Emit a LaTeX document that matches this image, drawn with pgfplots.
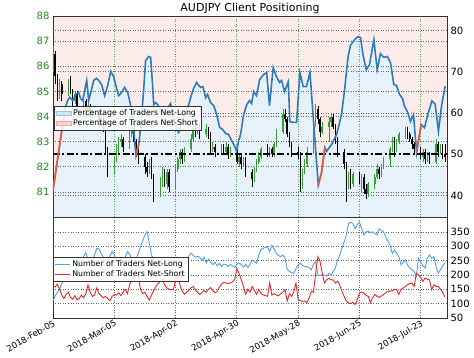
\documentclass[border=0pt]{standalone}
\usepackage{pgfplots}
\usepackage{pgfplotstable}
\pgfplotsset{compat=1.18}
\usepackage{fontspec}
\setmainfont{DejaVu Sans}
\definecolor{pinkbg}{RGB}{252,236,233}
\definecolor{bluefill}{RGB}{231,241,250}
\definecolor{lineblue}{RGB}{44,123,186}
\definecolor{linered}{RGB}{236,88,58}
\definecolor{cgreen}{RGB}{52,160,52}
\definecolor{tickgreen}{RGB}{34,139,34}
\definecolor{nlblue}{RGB}{80,160,230}
\definecolor{nsred}{RGB}{226,40,40}
\definecolor{framegray}{RGB}{50,50,50}
\definecolor{gridgray}{RGB}{100,100,100}
\definecolor{gridgreen}{RGB}{80,160,80}
\definecolor{legblue}{RGB}{205,225,245}
\definecolor{legblueedge}{RGB}{160,195,235}
\definecolor{legpink}{RGB}{250,205,200}
\definecolor{legpinkedge}{RGB}{240,165,160}
\tikzset{dotgrid/.style={dash pattern=on 0.9pt off 1.6pt, line width=0.75pt}}

\pgfplotstableread{
d o h l c
0 85.9 86.8 85.8 86.6
3 84.8 85.5 84.7 85.3
7 84.9 85.5 84.8 85.4
10 84.6 85.0 84.5 84.9
14 84.4 84.8 84.2 84.6
16 84.2 84.6 84.0 84.4
18 84.0 84.3 83.9 84.2
22 83.8 84.1 83.6 84.0
28 81.9 82.4 81.7 82.3
29 82.3 82.9 82.2 82.7
30 82.7 83.2 82.5 83.0
31 83.0 83.3 82.8 83.1
35 82.8 83.5 82.7 83.3
36 83.3 83.8 83.2 83.6
44 81.8 82.3 81.7 82.1
49 80.9 81.6 80.8 81.4
50 81.4 82.0 81.2 81.8
52 81.3 81.9 81.1 81.8
56 81.2 82.1 81.1 81.9
57 81.9 82.4 81.8 82.3
58 82.3 82.7 82.1 82.6
60 82.3 82.8 82.2 82.7
63 82.7 83.3 82.6 83.1
64 83.1 83.8 83.0 83.6
66 83.4 83.8 83.3 83.6
70 83.3 83.7 83.2 83.5
73 82.7 83.0 82.6 82.8
77 82.6 82.9 82.5 82.8
79 82.6 83.0 82.5 82.8
81 82.5 82.8 82.4 82.6
85 82.2 82.5 82.0 82.4
87 82.1 82.4 82.0 82.3
92 81.5 82.0 81.4 81.9
93 81.9 82.3 81.8 82.2
94 82.2 82.6 82.1 82.4
95 82.4 82.8 82.3 82.7
99 82.5 82.8 82.4 82.7
101 82.5 83.0 82.4 82.9
102 82.9 83.5 82.8 83.4
105 83.4 84.3 83.3 84.1
114 81.3 81.9 81.1 81.8
115 81.8 82.3 81.7 82.1
116 82.1 82.8 82.0 82.6
119 82.6 83.9 82.5 83.7
120 83.7 84.5 83.6 84.3
123 83.4 83.8 83.3 83.6
126 83.6 84.0 83.0 83.8
127 83.8 84.1 83.6 84.0
135 81.2 81.8 81.1 81.6
137 81.3 81.8 81.2 81.7
141 81.4 81.7 81.0 81.6
144 80.9 81.4 80.8 81.3
147 81.3 81.7 81.1 81.6
148 81.6 82.1 81.5 81.9
150 81.7 82.1 81.6 82.0
151 82.0 82.4 81.9 82.3
154 82.3 82.8 82.0 82.7
155 82.7 83.2 82.6 83.1
157 82.7 83.1 82.6 83.0
158 83.0 83.4 82.9 83.3
161 83.3 83.6 83.1 83.5
169 82.4 82.7 82.2 82.6
171 82.3 82.6 82.2 82.5
175 82.2 83.1 82.1 82.9
177 82.6 82.9 82.5 82.8
}\upc

\pgfplotstableread{
d o h l c
1 86.5 86.6 85.3 85.6
2 85.6 85.7 84.6 84.8
4 85.3 85.4 84.6 84.9
8 85.4 85.6 84.9 85.0
9 85.0 85.1 84.4 84.6
11 84.9 85.0 84.2 84.4
15 84.6 84.7 84.0 84.2
17 84.4 84.5 83.8 84.0
21 84.2 84.3 83.6 83.8
23 84.0 84.1 83.4 83.6
24 83.6 83.7 82.5 82.6
25 82.6 82.8 81.6 81.9
32 83.1 83.2 82.6 82.8
37 83.6 83.7 82.9 83.0
38 83.0 83.1 82.4 82.6
39 82.6 82.7 82.1 82.4
42 82.4 82.5 81.7 82.0
43 82.0 82.2 81.6 81.8
45 82.1 82.4 81.5 81.6
46 81.6 81.7 80.6 80.9
51 81.8 81.9 81.2 81.3
53 81.8 81.9 81.0 81.2
59 82.6 82.7 82.1 82.3
65 83.6 83.7 83.2 83.4
67 83.6 83.7 83.1 83.3
71 83.5 83.6 83.1 83.3
72 83.3 83.4 82.5 82.7
74 82.8 82.9 82.4 82.6
78 82.8 82.9 82.5 82.6
80 82.8 82.9 82.3 82.5
84 82.6 82.7 82.1 82.2
86 82.4 82.5 81.9 82.1
88 82.3 82.4 81.6 81.8
91 81.8 81.9 81.2 81.5
98 82.7 82.9 82.4 82.5
100 82.7 82.8 82.4 82.5
106 84.1 84.3 83.8 83.9
107 83.9 84.0 83.2 83.3
108 83.3 83.4 82.8 82.9
109 82.9 83.0 82.4 82.6
112 82.6 82.8 82.3 82.5
113 82.5 82.6 81.0 81.3
121 84.3 84.4 83.7 83.9
122 83.9 84.0 83.2 83.4
128 84.0 84.1 83.5 83.6
129 83.6 83.7 82.9 83.1
130 83.1 83.2 82.4 82.6
133 82.6 82.7 81.9 82.1
134 82.1 82.2 80.6 81.2
136 81.6 81.9 81.1 81.3
140 81.7 81.8 81.3 81.4
142 81.6 81.7 80.9 81.1
143 81.1 81.3 80.7 80.9
149 81.9 82.0 81.5 81.7
156 83.1 83.2 82.4 82.7
162 83.5 83.6 83.1 83.3
163 83.3 83.4 83.0 83.1
164 83.1 83.2 82.7 82.9
165 82.9 83.0 82.5 82.7
168 82.7 82.8 82.3 82.4
170 82.6 82.7 82.1 82.3
172 82.5 82.6 82.1 82.2
176 82.9 83.0 82.4 82.6
178 82.8 82.9 82.3 82.5
179 82.5 82.9 82.2 82.4
}\downc

\pgfplotstableread{
d p
0 41.2
5.5 61.1
6.7 63.0
7.6 63.8
9.0 63.0
10.4 64.5
11.7 65.0
12.6 63.5
13.6 63.0
14.5 65.5
15.4 67.9
16.3 63.0
17.7 65.9
18.6 67.9
19.9 68.4
20.9 67.9
22.2 66.9
23.6 64.2
25.0 66.7
26.4 70.1
27.7 68.8
29.1 65.9
30.0 64.2
31.4 65.0
32.7 66.2
34.1 65.0
35.0 63.0
36.4 59.4
37.3 53.3
37.9 49.7
39.3 52.7
40.5 59.4
41.4 65.5
42.3 72.7
43.7 73.7
44.6 73.5
45.5 66.7
46.0 62.0
46.9 62.5
47.8 62.0
49.2 60.6
50.5 59.4
52.4 61.1
53.7 62.3
55.1 58.7
56.5 56.2
57.4 55.3
58.8 57.7
60.2 60.1
62.0 62.0
63.3 64.5
64.2 65.9
65.6 67.4
66.5 66.7
67.4 66.2
68.5 66.4
69.7 63.7
70.6 64.5
72.0 62.5
73.4 61.8
74.8 59.6
76.1 56.5
77.5 56.0
78.9 55.0
80.2 54.8
81.6 53.3
83.0 51.9
83.9 50.7
84.8 53.3
85.7 54.8
87.1 59.6
88.5 62.0
89.8 63.0
90.7 62.3
91.7 65.2
93.0 64.2
94.4 68.1
96.2 69.3
97.6 69.8
98.9 61.8
100.6 71.0
102.1 68.8
103.5 67.4
104.4 67.9
105.8 65.2
107.5 67.6
108.2 57.9
109.8 57.7
111.3 57.7
112.8 69.8
114.3 66.4
115.8 66.4
117.4 69.8
118.9 58.9
120.0 50.9
121.2 42.5
122.7 45.6
124.2 51.6
125.0 50.7
127.3 52.4
129.6 54.8
131.8 59.6
133.2 65.5
134.1 70.3
134.9 73.9
135.9 76.4
137.8 77.8
139.3 78.5
140.5 78.3
141.6 74.2
143.1 70.5
144.6 71.7
146.6 77.8
148.1 70.5
149.6 74.4
151.1 73.5
152.7 73.7
154.2 72.2
155.7 66.9
156.9 66.7
158.3 64.5
159.7 63.5
160.6 61.6
162.1 60.1
163.3 57.9
164.7 59.6
166.1 50.4
168.2 57.2
169.7 56.4
171.2 59.6
173.1 62.9
174.6 62.1
176.1 55.6
177.6 62.1
179.2 66.5
}\pct

\pgfplotstableread{
d L S
0 110 160
1 127 158
2 140 168
3 150 150
4 170 130
5 180 118
6 188 132
7 195 140
8 205 122
9 215 115
10 222 128
11 230 113
12 235 118
13 250 130
14 265 120
15 277 135
16 255 165
17 240 140
18 248 125
19 270 130
20 293 155
21 292 135
22 275 128
23 262 120
24 245 125
25 250 118
26 265 110
27 282 125
28 270 132
29 250 130
30 242 138
31 255 128
32 250 140
33 262 150
34 282 135
35 272 165
36 255 188
37 248 200
38 258 225
39 275 190
40 300 150
41 320 135
42 340 140
43 351 125
44 311 112
45 270 130
46 250 145
47 245 160
48 240 170
49 230 177
50 235 184
51 242 165
52 238 155
53 245 150
54 250 148
55 240 150
56 232 180
57 240 192
58 245 165
59 238 145
60 240 133
61 250 140
62 265 145
63 276 155
64 268 160
65 262 148
66 265 140
67 262 132
68 250 138
69 262 146
70 242 140
71 255 150
72 245 156
73 236 145
74 245 138
75 232 142
76 240 158
77 230 168
78 238 174
79 236 172
80 230 170
81 236 172
82 232 176
83 226 185
84 238 222
85 242 205
86 236 184
87 228 160
88 237 133
89 226 150
90 238 140
91 252 160
92 246 145
93 241 132
94 270 150
95 287 135
96 293 130
97 296 128
98 298 126
99 282 172
100 304 130
101 290 135
102 275 130
103 268 128
104 264 135
105 270 140
106 258 149
107 220 109
108 212 135
109 208 125
110 206 140
111 222 172
112 235 114
113 241 110
114 232 108
115 229 109
116 229 103
117 226 120
118 218 143
119 238 140
120 247 206
121 200 264
122 198 247
123 200 206
124 200 172
125 196 183
126 205 188
127 200 183
128 212 183
129 224 172
130 252 178
131 268 165
132 293 143
133 315 125
134 339 109
135 379 103
136 384 100
137 378 105
138 361 97
139 375 114
140 384 137
141 362 140
142 339 137
143 350 128
144 352 126
145 348 103
146 350 120
147 345 132
148 339 126
149 361 122
150 355 126
151 350 132
152 333 138
153 318 143
154 304 143
155 275 145
156 287 149
157 275 149
158 264 132
159 235 150
160 245 155
161 252 160
162 235 166
163 224 170
164 218 172
165 212 160
166 195 206
167 258 200
168 245 190
169 232 178
170 224 189
171 258 185
172 270 183
173 258 149
174 264 166
175 230 160
176 206 160
177 218 150
178 230 140
179 241 124
}\traders

\begin{document}
\begin{tikzpicture}
\path[use as bounding box] (-53pt,-39pt) rectangle (421pt,318pt);
\pgfplotsset{
  base/.style={scale only axis, width=394pt, xmin=0, xmax=180,
    axis line style={framegray, line width=0.8pt}, tick style={draw=none},
    /pgf/number format/assume math mode=true,
    ticklabel style={font=\fontsize{10}{12}\selectfont},
    legend cell align=left},
  toppanel/.style={base, at={(0pt,101pt)}, anchor=south west, height=201pt,
    xtick={0,28,56,84,112,140,168}, xticklabels={}},
  mylegend/.style={draw=framegray, fill=white, fill opacity=0.85, text opacity=1,
    font=\fontsize{7.8}{9}\selectfont, inner sep=1.3pt, row sep=-1.2pt,
    /tikz/every even column/.append style={column sep=2pt}},
}
% A: background fills and right axis
\begin{axis}[toppanel, ymin=34.76, ymax=83.52,
  axis background/.style={fill=pinkbg},
  ytick={40,50,60,70,80}, ytick pos=right, yticklabel pos=right,
  title={AUDJPY Client Positioning},
  every axis title/.style={at={(0.5,1)}, anchor=base, yshift=4.3pt, font=\fontsize{11}{13}\selectfont}]
\addplot[fill=bluefill, draw=none] table[x=d, y=p] {\pct} \closedcycle;
\end{axis}
% B: price candles
\begin{axis}[toppanel, ymin=80, ymax=88,
  ytick={81,82,83,84,85,86,87,88}, ytick pos=left, yticklabel pos=left,
  yticklabel style={text=tickgreen},
  xmajorgrids, ymajorgrids,
  major x grid style={gridgreen, dotgrid},
  major y grid style={gridgray, dotgrid},
  extra y ticks={80.859,84.141,85.781,87.422}, extra y tick labels={},
  extra y tick style={grid=major, major grid style={gridgray, dotgrid}}]
\addplot[cgreen, line width=0.6pt, quiver={u=0, v={\thisrow{h}-\thisrow{l}}}] table[x=d, y=l] {\upc};
\addplot[cgreen, line width=1.5pt, quiver={u=0, v={\thisrow{c}-\thisrow{o}}}] table[x=d, y=o] {\upc};
\addplot[black, line width=0.6pt, quiver={u=0, v={\thisrow{h}-\thisrow{l}}}] table[x=d, y=l] {\downc};
\addplot[black, line width=1.5pt, quiver={u=0, v={\thisrow{c}-\thisrow{o}}}] table[x=d, y=o] {\downc};
\addplot[black, line width=1.6pt, dash pattern=on 7pt off 2.5pt on 2pt off 2.5pt] coordinates {(0,82.5) (180,82.5)};
\end{axis}
% C: sentiment line and legend
\begin{axis}[toppanel, hide axis, ymin=34.76, ymax=83.52,
  legend style={mylegend, at={(0.003,0.552)}, anchor=north west}]
\addplot[lineblue, line width=1.6pt, forget plot] table[x=d, y=p] {\pct};
\addplot[linered, line width=1.6pt, forget plot] coordinates {(0,41.2) (5.5,61.1)};
\addplot[linered, line width=1.6pt, forget plot] coordinates {(37.9,49.7) (39.3,52.7)};
\addplot[linered, line width=1.6pt, forget plot] coordinates {(121.2,42.5) (122.7,45.6) (124.2,51.6)};
\addplot[linered, line width=1.6pt, forget plot] coordinates {(166.1,50.4) (168.2,57.2)};
\addlegendimage{legend image code/.code={\draw[fill=legblue, draw=legblueedge] (0pt,-2pt) rectangle (15pt,2pt);}}
\addlegendentry{Percentage of Traders Net-Long}
\addlegendimage{legend image code/.code={\draw[fill=legpink, draw=legpinkedge] (0pt,-2pt) rectangle (15pt,2pt);}}
\addlegendentry{Percentage of Traders Net-Short}
\end{axis}
% D: number of traders
\begin{axis}[base, at={(0pt,0pt)}, anchor=south west, height=101pt,
  ymin=50, ymax=402, ytick={50,100,150,200,250,300,350}, ytick pos=right, yticklabel pos=right,
  xtick={0,28,56,84,112,140,168},
  xticklabels={2018-Feb-05,2018-Mar-05,2018-Apr-02,2018-Apr-30,2018-May-28,2018-Jun-25,2018-Jul-23},
  xticklabel style={rotate=30, anchor=north east, inner sep=1pt, font=\fontsize{8.6}{10}\selectfont},
  xmajorgrids, ymajorgrids, major grid style={gridgray, dotgrid},
  legend style={mylegend, at={(0.0,0.604)}, anchor=north west},
  legend image code/.code={\draw[#1] (0pt,0pt) -- (15pt,0pt);}]
\addplot[nlblue, line width=0.9pt] table[x=d, y=L] {\traders};
\addlegendentry{Number of Traders Net-Long}
\addplot[nsred, line width=0.9pt] table[x=d, y=S] {\traders};
\addlegendentry{Number of Traders Net-Short}
\end{axis}
\end{tikzpicture}
\end{document}
